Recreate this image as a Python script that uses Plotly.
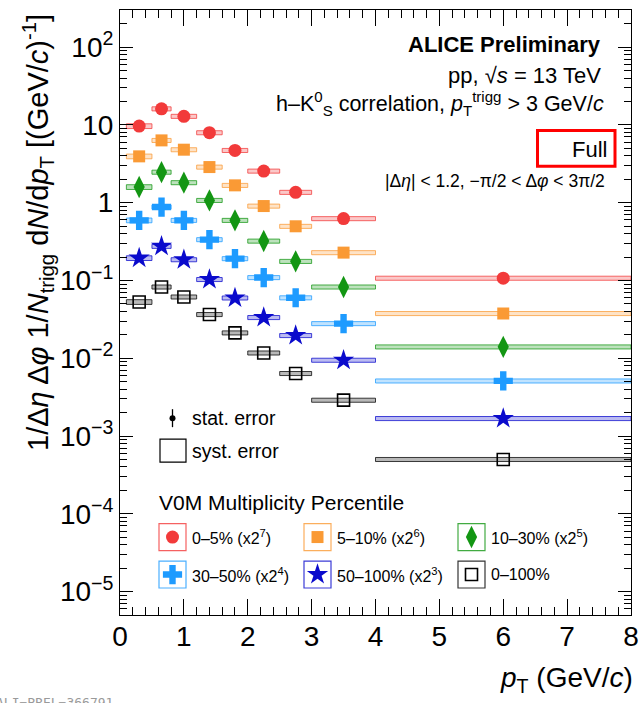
import plotly.graph_objects as go

# ---------------- data ----------------
pt_low = [0.1, 0.5, 0.8, 1.2, 1.6, 2.0, 2.5, 3.0, 4.0]
pt_high = [0.5, 0.8, 1.2, 1.6, 2.0, 2.5, 3.0, 4.0, 8.0]
pt_center = [0.3, 0.65, 1.0, 1.4, 1.8, 2.25, 2.75, 3.5, 6.0]

# plotted (already scaled) yields
yield_0_5 = [9.65, 16.1, 12.9, 7.94, 4.70, 2.55, 1.36, 0.624, 0.107]
yield_5_10 = [3.94, 6.32, 4.80, 2.87, 1.67, 0.905, 0.497, 0.228, 0.0376]
yield_10_30 = [1.59, 2.47, 1.81, 1.07, 0.593, 0.321, 0.176, 0.0825, 0.0140]
yield_30_50 = [0.593, 0.879, 0.593, 0.335, 0.191, 0.109, 0.0599, 0.0279, 0.00511]
yield_50_100 = [0.194, 0.275, 0.185, 0.103, 0.0596, 0.0334, 0.0196, 0.00944, 0.00168]
yield_0_100 = [0.0529, 0.0825, 0.0614, 0.0365, 0.0212, 0.0117, 0.00637, 0.00289, 0.000500]

# relative systematic uncertainties
syst_0_5 = [0.07, 0.06, 0.06, 0.06, 0.06, 0.06, 0.06, 0.06, 0.06]
syst_5_10 = [0.07, 0.06, 0.06, 0.06, 0.06, 0.06, 0.06, 0.06, 0.06]
syst_10_30 = [0.07, 0.06, 0.06, 0.06, 0.06, 0.06, 0.06, 0.06, 0.06]
syst_30_50 = [0.07, 0.06, 0.06, 0.06, 0.06, 0.06, 0.06, 0.06, 0.06]
syst_50_100 = [0.07, 0.06, 0.06, 0.06, 0.06, 0.06, 0.06, 0.06, 0.06]
syst_0_100 = [0.07, 0.06, 0.06, 0.06, 0.06, 0.06, 0.06, 0.06, 0.06]

series_labels = ["0–5% (x2<sup>7</sup>)", "5–10% (x2<sup>6</sup>)", "10–30% (x2<sup>5</sup>)",
                 "30–50% (x2<sup>4</sup>)", "50–100% (x2<sup>3</sup>)", "0–100%"]

y_tickvals = [1e-5, 1e-4, 1e-3, 1e-2, 1e-1, 1, 10, 100]
y_ticktext = ["10<sup>−5</sup>", "10<sup>−4</sup>", "10<sup>−3</sup>", "10<sup>−2</sup>",
              "10<sup>−1</sup>", "1", "10", "10<sup>2</sup>"]
x_tickvals = [0, 1, 2, 3, 4, 5, 6, 7, 8]

# ---------------- styles ----------------
styles = [
    dict(color="#f23a3a", rgb=(242, 58, 58), symbol="circle", size=13),
    dict(color="#fa9a35", rgb=(250, 154, 53), symbol="square", size=12),
    dict(color="#139613", rgb=(19, 150, 19), symbol="diamond-tall", size=16),
    dict(color="#1e9bff", rgb=(30, 155, 255), symbol="cross", size=16),
    dict(color="#0a0acc", rgb=(10, 10, 204), symbol="star", size=16),
    dict(color="#000000", rgb=(0, 0, 0), symbol="square-open", size=12),
]
all_yields = [yield_0_5, yield_5_10, yield_10_30, yield_30_50, yield_50_100, yield_0_100]
all_syst = [syst_0_5, syst_5_10, syst_10_30, syst_30_50, syst_50_100, syst_0_100]

W, H = 641, 703
L, R, T, B = 120, 631, 9.5, 615
FONT = "Liberation Sans, Arial, Helvetica, sans-serif"


def px(xpix):
    return (xpix - L) / (R - L)


def py(ypix):
    return (B - ypix) / (B - T)


fig = go.Figure()

# systematic boxes
for vals, syst, st in zip(all_yields, all_syst, styles):
    xs, ys = [], []
    for lo, hi, v, s in zip(pt_low, pt_high, vals, syst):
        y0, y1 = v * (1 - s), v * (1 + s)
        xs += [lo, hi, hi, lo, lo, None]
        ys += [y0, y0, y1, y1, y0, None]
    r, g, b = st["rgb"]
    fig.add_trace(go.Scatter(
        x=xs, y=ys, mode="lines", fill="toself",
        fillcolor=f"rgba({r},{g},{b},0.28)",
        line=dict(color=f"rgba({r},{g},{b},0.75)", width=1),
        hoverinfo="skip", showlegend=False))

# markers
for vals, st in zip(all_yields, styles):
    mk = dict(symbol=st["symbol"], size=st["size"], color=st["color"],
              line=dict(width=0))
    if st["symbol"] == "square-open":
        mk["line"] = dict(width=1.6, color=st["color"])
    fig.add_trace(go.Scatter(x=pt_center, y=vals, mode="markers", marker=mk,
                             showlegend=False))

shapes = []
annotations = []

# ---- custom legend (overlay axes in plot-fraction units) ----
leg_cols = [172.5, 317.5, 471.5]
leg_rows = [537, 574.5]
box_half = 13.5
for i, (lab, st) in enumerate(zip(series_labels, styles)):
    cx = leg_cols[i % 3]
    cy = leg_rows[i // 3]
    r, g, b = st["rgb"]
    shapes.append(dict(type="rect", xref="paper", yref="paper",
                       x0=px(cx - box_half), x1=px(cx + box_half),
                       y0=py(cy + box_half), y1=py(cy - box_half),
                       line=dict(color=f"rgba({r},{g},{b},0.8)", width=1.2)))
    mk = dict(symbol=st["symbol"], size=st["size"], color=st["color"], line=dict(width=0))
    if st["symbol"] == "square-open":
        mk["line"] = dict(width=1.6, color=st["color"])
    fig.add_trace(go.Scatter(x=[px(cx)], y=[py(cy)], mode="markers", marker=mk,
                             xaxis="x2", yaxis="y2", showlegend=False, hoverinfo="skip"))
    annotations.append(dict(text=lab, xref="paper", yref="paper",
                            x=px(cx + 17), y=py(cy), xanchor="left", yanchor="middle",
                            showarrow=False, font=dict(size=16, color="black", family=FONT)))

annotations.append(dict(text="V0M Multiplicity Percentile", xref="paper", yref="paper",
                        x=px(157), y=py(502), xanchor="left", yanchor="middle",
                        showarrow=False, font=dict(size=21, color="black", family=FONT)))

# stat / syst error legend
fig.add_trace(go.Scatter(x=[px(172.5)], y=[py(418)], mode="markers",
                         marker=dict(size=6, color="black"),
                         error_y=dict(type="data", array=[9 / (B - T)], width=0,
                                      color="black", thickness=1.3),
                         xaxis="x2", yaxis="y2", showlegend=False, hoverinfo="skip"))
annotations.append(dict(text="stat. error", xref="paper", yref="paper",
                        x=px(190), y=py(418), xanchor="left", yanchor="middle",
                        showarrow=False, font=dict(size=19.5, color="black", family=FONT)))
shapes.append(dict(type="rect", xref="paper", yref="paper",
                   x0=px(160), x1=px(186), y0=py(462), y1=py(439),
                   line=dict(color="black", width=1.2)))
annotations.append(dict(text="syst. error", xref="paper", yref="paper",
                        x=px(190), y=py(451), xanchor="left", yanchor="middle",
                        showarrow=False, font=dict(size=19.5, color="black", family=FONT)))

# ---- header texts ----
hdr = [
    dict(text="<b>ALICE Preliminary</b>", x=px(603), y=py(44), xanchor="right", yanchor="middle",
         font=dict(size=22, family=FONT, color="black")),
    dict(text="pp, √<i>s</i> = 13 TeV", x=px(603), y=py(75), xanchor="right", yanchor="middle",
         font=dict(size=22, family=FONT, color="black")),
    dict(text="h–K<sup>0</sup><sub>S</sub> correlation, <i>p</i><sub>T</sub><sup>trigg</sup> > 3 GeV/<i>c</i>",
         x=px(606), y=py(103), xanchor="right", yanchor="middle",
         font=dict(size=21.5, family=FONT, color="black")),
    dict(text="Full", x=px(609), y=py(149), xanchor="right", yanchor="middle",
         font=dict(size=22, family=FONT, color="black")),
    dict(text="|Δ<i>η</i>| < 1.2, −π/2 < Δ<i>φ</i> < 3π/2", x=px(607), y=py(181),
         xanchor="right", yanchor="middle", font=dict(size=17.5, family=FONT, color="black")),
]
for a in hdr:
    a.update(xref="paper", yref="paper", showarrow=False)
annotations += hdr

shapes.append(dict(type="rect", xref="paper", yref="paper",
                   x0=px(537.5), x1=px(615), y0=py(166), y1=py(130),
                   line=dict(color="#ff0000", width=3)))

# axis titles
annotations.append(dict(
    text="1/Δ<i>η</i> Δ<i>φ</i> 1/<i>N</i><sub>trigg</sub> d<i>N</i>/d<i>p</i><sub>T</sub> [(GeV/<i>c</i>)<sup>-1</sup>]",
    xref="paper", yref="paper", x=px(38), y=py(12), xanchor="center", yanchor="top",
    textangle=-90, showarrow=False, font=dict(size=29, family=FONT, color="black")))
annotations.append(dict(
    text="<i>p</i><sub>T</sub> (GeV/<i>c</i>)", xref="paper", yref="paper",
    x=px(635), y=py(680), xanchor="right", yanchor="middle", showarrow=False,
    font=dict(size=28, family=FONT, color="black")))

# watermark
annotations.append(dict(text="ALI−PREL−366791", xref="paper", yref="paper",
                        x=px(-6), y=py(693), xanchor="left", yanchor="top", showarrow=False,
                        font=dict(size=13, family="DejaVu Sans Mono, monospace", color="#9a9a9a")))

# minor tick positions for log axis
minor_y = []
for e in range(-6, 3):
    for m in range(2, 10):
        v = m * 10.0 ** e
        if 5e-6 <= v <= 300:
            minor_y.append(v)

fig.update_layout(
    width=W, height=H,
    margin=dict(l=L, r=W - R, t=T, b=H - B, pad=0, autoexpand=False),
    paper_bgcolor="white", plot_bgcolor="white",
    font=dict(family=FONT, color="black"),
    showlegend=False,
    shapes=shapes, annotations=annotations,
    xaxis=dict(range=[0, 8], tickmode="array", tickvals=x_tickvals, automargin=False,
               ticks="inside", ticklen=16, tickwidth=1, tickcolor="black",
               showline=True, linecolor="black", linewidth=1, mirror="allticks",
               showgrid=False, zeroline=False,
               tickfont=dict(size=28, family=FONT, color="black"),
               ticklabelstandoff=-4,
               minor=dict(dtick=0.2, tick0=0, ticks="inside", ticklen=8,
                          tickcolor="black", tickwidth=1, showgrid=False)),
    yaxis=dict(type="log", range=[-5.30103, 2.4771213], tickmode="array",
               tickvals=y_tickvals, ticktext=y_ticktext, automargin=False,
               ticks="inside", ticklen=13, tickwidth=1, tickcolor="black",
               showline=True, linecolor="black", linewidth=1, mirror="allticks",
               showgrid=False, zeroline=False,
               tickfont=dict(size=28, family=FONT, color="black"),
               ticklabelstandoff=0,
               minor=dict(tickmode="array", tickvals=minor_y, ticks="inside", ticklen=7,
                          tickcolor="black", tickwidth=1, showgrid=False)),
    xaxis2=dict(overlaying="x", range=[0, 1], visible=False, fixedrange=True),
    yaxis2=dict(overlaying="y", range=[0, 1], visible=False, fixedrange=True),
)

fig.write_html("out.html", config={"displayModeBar": False},
               post_script="document.body.style.margin='0px';document.body.style.overflow='hidden';")
